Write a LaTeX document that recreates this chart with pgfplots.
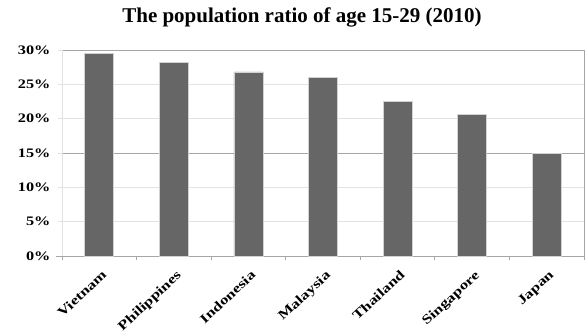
\documentclass[border=0pt]{standalone}
\usepackage{pgfplots}
\pgfplotsset{compat=1.18}
\usepackage{fontspec}
\setmainfont{Liberation Serif}
\newfontfamily\tickfont[FakeStretch=1.25]{Liberation Serif}
\newfontfamily\labfont[FakeStretch=1.3]{Liberation Serif}
\definecolor{barc}{HTML}{666666}
\definecolor{gridl}{HTML}{E2E2E2}
\definecolor{gridd}{HTML}{A6A6A6}
\begin{document}
\begin{tikzpicture}
\begin{axis}[
  scale only axis, width=522pt, height=206pt,
  xmin=-0.5, xmax=6.5, ymin=0, ymax=30,
  axis line style={draw=none},
  ytick={0,5,10,20,25},
  yticklabels={0\%,5\%,10\%,20\%,25\%},
  extra y ticks={15,30},
  extra y tick labels={15\%,30\%},
  extra y tick style={grid style={draw=gridd, line width=0.8pt}},
  ymajorgrids, grid style={draw=gridl, line width=0.8pt},
  yticklabel style={font=\tickfont\bfseries\fontsize{13}{15}\selectfont, xshift=-4pt},
  ytick style={draw=gridl, line width=0.8pt},
  tick align=outside, major tick length=4pt, minor tick length=4pt,
  ytick pos=left, xtick pos=bottom,
  xtick={0,...,6},
  xticklabels={Vietnam,Philippines,Indonesia,Malaysia,Thailand,Singapore,Japan},
  xtick style={draw=none},
  minor xtick={-0.5,0.5,...,6.5},
  minor x tick style={draw=gridd, line width=0.8pt},
  x tick label style={rotate=43, anchor=north east, font=\labfont\bfseries\fontsize{13}{15}\selectfont, inner sep=1pt, yshift=-7pt, xshift=-4pt},
  title={The population ratio of age 15-29 (2010)},
  title style={font=\bfseries\fontsize{21}{25}\selectfont, anchor=base, at={(rel axis cs:0.5,1)}, yshift=22pt, xshift=-21pt},
  clip=false,
]
\draw[gridl, line width=0.8pt] (rel axis cs:0,0) -- (rel axis cs:0,1);
\draw[gridd, line width=0.8pt] (rel axis cs:1,0) -- (rel axis cs:1,1);
\draw[gridd, line width=0.8pt] (rel axis cs:-0.012,0) -- (rel axis cs:1,0);
\addplot[ybar, bar width=29pt, fill=barc, draw=gray!35, line width=0.6pt] coordinates {
  (0,29.55) (1,28.15) (2,26.8) (3,26.05) (4,22.55) (5,20.6) (6,15.0)
};
\end{axis}
\path ([shift={(-62pt,-71pt)}]current axis.south west) rectangle ([shift={(2pt,50pt)}]current axis.north east);
\end{tikzpicture}
\end{document}
